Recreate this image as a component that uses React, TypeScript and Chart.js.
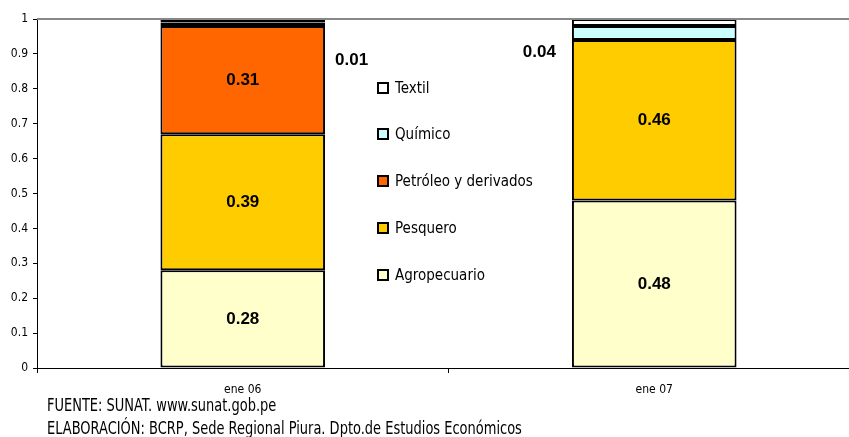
import React, { useEffect, useRef } from "react";
import { Chart, registerables } from "chart.js";

Chart.register(...registerables);

const categories = ["ene 06", "ene 07"];
const seriesNames = ["Agropecuario", "Pesquero", "Petróleo y derivados", "Químico", "Textil"];
const agropecuario = [0.28, 0.48];
const pesquero = [0.39, 0.46];
const petroleo = [0.31, 0];
const quimico = [0.01, 0.04];
const textil = [0.01, 0.02];
const seriesColors = ["#FFFFCC", "#FFCC00", "#FF6600", "#CCFFFF", "#FFFFFF"];
const yTicks = [0, 0.1, 0.2, 0.3, 0.4, 0.5, 0.6, 0.7, 0.8, 0.9, 1];
const footerLines = [
  "FUENTE: SUNAT. www.sunat.gob.pe",
  "ELABORACIÓN: BCRP, Sede Regional Piura. Dpto.de Estudios Económicos",
];

const NARROW = '"Liberation Sans Narrow", "Arial Narrow", "DejaVu Sans Condensed", "Liberation Sans", sans-serif';
const BOLD = '"Liberation Sans", Arial, sans-serif';

const fmt = (v: number) => v.toFixed(2);

const overlayPlugin = {
  id: "overlay",
  afterDatasetsDraw(chart: any) {
    const ctx = chart.ctx;
    const area = chart.chartArea;
    const yScale = chart.scales.y;
    ctx.save();
    // top border of plot area
    ctx.strokeStyle = "#888888";
    ctx.lineWidth = 2;
    ctx.beginPath();
    ctx.moveTo(area.left, area.top);
    ctx.lineTo(area.right, area.top);
    ctx.stroke();

    // data labels
    ctx.fillStyle = "#000";
    ctx.font = `bold 17px ${BOLD}`;
    ctx.textBaseline = "middle";
    chart.data.datasets.forEach((ds: any, di: number) => {
      const meta = chart.getDatasetMeta(di);
      meta.data.forEach((bar: any, i: number) => {
        const v = ds.data[i];
        if (!v) return;
        if (di <= 2) {
          ctx.textAlign = "center";
          ctx.fillText(fmt(v), bar.x, (bar.y + bar.base) / 2);
        } else if (di === 3) {
          const half = bar.width / 2;
          if (i === 0) {
            ctx.textAlign = "left";
            ctx.fillText(fmt(v), bar.x + half + 10, yScale.getPixelForValue(0.8825));
          } else {
            ctx.textAlign = "right";
            ctx.fillText(fmt(v), bar.x - half - 16, yScale.getPixelForValue(0.905));
          }
        }
      });
    });

    // legend (reverse order)
    const legendX = 378;
    const legendYs = [88, 134, 181, 228, 275];
    ctx.font = `15px ${NARROW}`;
    ctx.textAlign = "left";
    const n = chart.data.datasets.length;
    for (let k = 0; k < n; k++) {
      const ds = chart.data.datasets[n - 1 - k];
      const y = legendYs[k];
      ctx.fillStyle = ds.backgroundColor;
      ctx.fillRect(legendX, y - 5, 10, 10);
      ctx.strokeStyle = "#000";
      ctx.lineWidth = 2;
      ctx.strokeRect(legendX, y - 5, 10, 10);
      ctx.fillStyle = "#000";
      ctx.fillText(ds.label, legendX + 17, y + 1);
    }

    // footer (horizontally condensed to mimic a narrow face)
    ctx.font = `17px ${NARROW}`;
    ctx.fillStyle = "#000";
    const footerYs = [407, 430];
    const squeeze = 0.85;
    footerLines.forEach((t, i) => {
      ctx.save();
      ctx.translate(47, footerYs[i]);
      ctx.scale(squeeze, 1);
      ctx.fillText(t, 0, 0);
      ctx.restore();
    });
    ctx.restore();
  },
};

export default function App() {
  const ref = useRef<HTMLCanvasElement>(null);
  useEffect(() => {
    if (!ref.current) return;
    const values = [agropecuario, pesquero, petroleo, quimico, textil];
    const chart = new Chart(ref.current, {
      type: "bar",
      data: {
        labels: categories,
        datasets: seriesNames.map((name, i) => ({
          label: name,
          data: values[i],
          backgroundColor: seriesColors[i],
          borderColor: "#000000",
          borderWidth: 2,
          borderSkipped: false,
          categoryPercentage: 1,
          barPercentage: 0.4,
        })),
      },
      options: {
        responsive: false,
        animation: false,
        layout: { padding: { left: 0, top: 19, right: 20, bottom: 0 } },
        plugins: { legend: { display: false }, tooltip: { enabled: false } },
        scales: {
          x: {
            stacked: true,
            offset: true,
            afterFit: (s: any) => { s.height = 69; },
            grid: { drawOnChartArea: false, tickLength: 5, color: "#000", offset: true },
            border: { color: "#000", width: 1 },
            ticks: { color: "#000", font: { family: NARROW, size: 12 }, padding: 10, maxRotation: 0 },
          },
          y: {
            stacked: true,
            min: 0,
            max: 1,
            afterFit: (s: any) => { s.width = 37; },
            afterBuildTicks: (s: any) => { s.ticks = yTicks.map((v) => ({ value: v })); },
            grid: { drawOnChartArea: false, tickLength: 4, color: "#000" },
            border: { color: "#000", width: 1 },
            ticks: {
              color: "#000",
              font: { family: NARROW, size: 12 },
              padding: 5,
              callback: (v: any) => String(Math.round(Number(v) * 10) / 10),
            },
          },
        },
      },
      plugins: [overlayPlugin],
    });
    return () => chart.destroy();
  }, []);
  return (
    <div style={{ position: "fixed", left: 0, top: 0, width: 849, height: 437, overflow: "hidden", background: "#fff" }}>
      <canvas ref={ref} width={880} height={437} style={{ display: "block" }} />
    </div>
  );
}
